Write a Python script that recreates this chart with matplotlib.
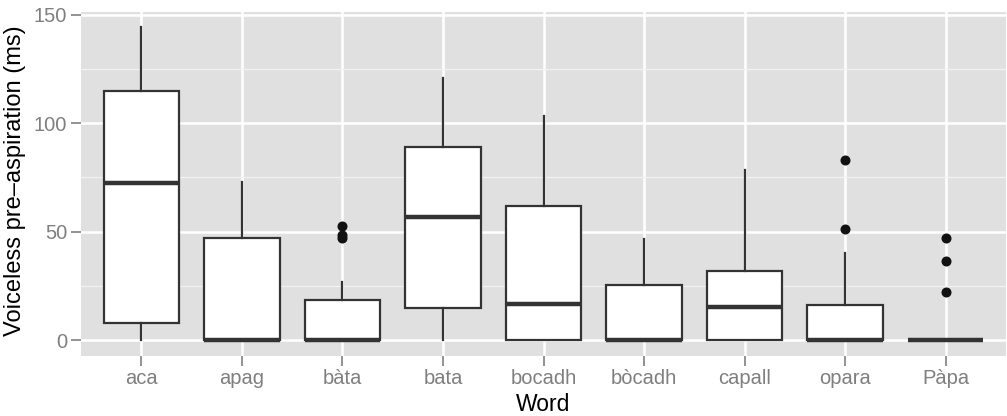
import matplotlib
matplotlib.use("Agg")
import matplotlib.pyplot as plt
from matplotlib.ticker import MultipleLocator

# Summary statistics of voiceless pre-aspiration duration (ms) per word
words = ["aca", "apag", "bàta", "bata", "bocadh", "bòcadh", "capall", "opara", "Pàpa"]
whisker_low = [0, 0, 0, 0, 0, 0, 0, 0, 0]
q1 = [7.7, 0, 0, 14.8, 0, 0, 0, 0, 0]
median = [72.5, 0, 0, 57.0, 16.5, 0, 15.3, 0, 0]
q3 = [114.8, 47.0, 18.5, 88.9, 62.0, 25.6, 31.8, 16.3, 0]
whisker_high = [144.5, 72.9, 27.0, 120.8, 103.4, 46.5, 78.4, 40.0, 0]
outliers = [[], [], [52.6, 48.5, 47.0], [], [], [], [], [83.1, 51.2], [46.9, 36.6, 22.3]]

stats = [
    dict(label=w, whislo=lo, q1=a, med=m, q3=b, whishi=hi, fliers=f)
    for w, lo, a, m, b, hi, f in zip(words, whisker_low, q1, median, q3, whisker_high, outliers)
]

plt.rcParams["font.family"] = ["Liberation Sans", "DejaVu Sans"]

fig = plt.figure(figsize=(10.07, 4.16), dpi=100)
ax = fig.add_axes([81 / 1007, 1 - 355.6 / 416, 925 / 1007, 343.2 / 416])

ax.set_facecolor("#E0E0E0")
for s in ax.spines.values():
    s.set_visible(False)

edge = "#333333"
positions = list(range(1, len(words) + 1))
ax.bxp(
    stats,
    positions=positions,
    widths=0.75,
    patch_artist=True,
    showcaps=False,
    boxprops=dict(facecolor="white", edgecolor=edge, linewidth=1.6),
    medianprops=dict(color=edge, linewidth=3.2, solid_capstyle="butt"),
    whiskerprops=dict(color=edge, linewidth=1.6),
    flierprops=dict(marker="o", markersize=6.2, markerfacecolor="#111111",
                    markeredgecolor="#111111", linestyle="none"),
    zorder=3,
)

ax.set_xlim(0.4, len(words) + 0.6)
ax.set_ylim(-7.2, 151.2)
ax.set_xticks(positions)
ax.set_xticklabels(words)
ax.yaxis.set_major_locator(MultipleLocator(50))
ax.yaxis.set_minor_locator(MultipleLocator(25))

ax.grid(which="major", color="white", linewidth=1.8, zorder=0)
ax.grid(which="minor", axis="y", color="#F2F2F2", linewidth=0.9, zorder=0)
ax.set_axisbelow(True)

ax.tick_params(axis="both", which="major", length=7, width=1.2, color="#808080",
               labelcolor="#7F7F7F", labelsize=14.5, pad=3)
ax.tick_params(axis="y", which="minor", length=0)

ax.set_xlabel("Word", fontsize=16.5, color="black", va="baseline")
ax.xaxis.set_label_coords(0.5, (355.6 - 411) / 343.2)
ax.set_ylabel("Voiceless pre–aspiration (ms)", fontsize=17, color="black",
              va="center", ha="center")
ax.yaxis.set_label_coords(-0.0714, 0.51)

fig.savefig("out.png", dpi=100)
